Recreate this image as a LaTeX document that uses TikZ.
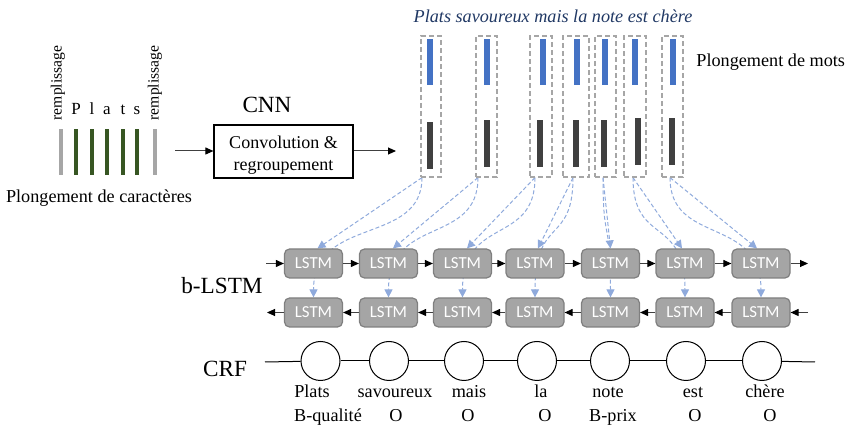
\documentclass[tikz,border=0pt]{standalone}
\usepackage{fontspec}
\setmainfont{Liberation Serif}
\newfontfamily\lstmfont{Carlito}
\usetikzlibrary{arrows.meta,positioning,backgrounds}
\definecolor{embblue}{RGB}{68,114,196}
\definecolor{embdark}{RGB}{64,64,64}
\definecolor{chargreen}{RGB}{55,86,35}
\definecolor{padgray}{RGB}{166,166,166}
\definecolor{linkblue}{RGB}{143,170,220}
\definecolor{lstmfill}{RGB}{165,165,165}
\definecolor{lstmedge}{RGB}{127,127,127}
\definecolor{titleblue}{RGB}{32,56,100}
\tikzset{
  txt/.style={font=\fontsize{9.1}{11}\selectfont},
  bigtxt/.style={font=\fontsize{11.6}{13}\selectfont},
  lstmbox/.style={draw=lstmedge,fill=lstmfill,rounded corners=2.5pt,line width=0.6pt,
    minimum width=29pt,minimum height=14.5pt,inner sep=0pt,text=white,
    font=\lstmfont\fontsize{8.4}{10}\selectfont},
  crfnode/.style={draw,circle,minimum size=19.5pt,inner sep=0pt,line width=0.5pt},
  embbox/.style={draw=padgray,dash pattern=on 2.5pt off 1.5pt,line width=0.6pt,
    inner sep=0pt,minimum height=70.5pt},
  link/.style={linkblue,dash pattern=on 2pt off 1.2pt,line width=0.5pt,
    -{Triangle[length=4pt,width=4pt]}},
  flow/.style={black!75,line width=0.5pt,-{Triangle[length=4pt,width=3.5pt,black]}}
}
\begin{document}
\begin{tikzpicture}[x=0.5pt,y=-0.5pt]
  \useasboundingbox (0,0) rectangle (848,427);
  % character embedding
  \foreach \x in {61,155} \fill[padgray] (\x-2.25,129) rectangle (\x+2.25,175);
  \foreach \x/\c in {76/P,92/l,107/a,123/t,137/s} {
    \fill[chargreen] (\x-2.25,129) rectangle (\x+2.25,175);
    \node[anchor=base,font=\fontsize{8.5}{10}\selectfont] at (\x,115) {\c};
  }
  \node[rotate=90,font=\fontsize{7.8}{9}\selectfont] (padl) at (58,83) {remplissage};
  \node[rotate=90,font=\fontsize{7.8}{9}\selectfont] (padr) at (155,83) {remplissage};
  \node[txt,anchor=base] (chartxt) at (99,203) {Plongement de caractères};
  \coordinate (charout) at (175,151);
  % CNN
  \node[draw,line width=0.6pt,minimum width=69.5pt,minimum height=26.5pt,inner sep=0pt] (conv) at (283.5,151.5) {};
  \node[align=center,font=\fontsize{9}{11}\selectfont] (convtxt) at (283.5,155.5) {Convolution \&\\regroupement};
  \node[bigtxt,anchor=base] (cnn) at (267,113) {CNN};
  \coordinate (convout) at (396,151);
  \draw[flow] (charout) -- (charout -| conv.west);
  \draw[flow] (conv.east |- convout) -- (convout);
  % word embedding
  \foreach \i/\cx/\w/\b/\d/\dt in {1/431/20/430/430/122,2/486.5/21/487/487/120,
      3/541/22/543/540/120,4/576/26/577/576/120,5/605.5/21/605/604/120,
      6/635/22/635/638/118,7/672.5/21/673/672/118} {
    \node[embbox,minimum width=\w*0.5pt] (e\i) at (\cx,106.5) {};
    \fill[embblue] (\b-3,39) rectangle (\b+3,85);
    \fill[embdark] (\d-3,\dt) rectangle (\d+3,\dt+47);
  }
  \node[anchor=base,text=titleblue,font=\fontsize{9.1}{11}\selectfont\itshape] (title) at (553,23) {Plats savoureux mais la note est chère};
  \node[txt,anchor=base west,inner sep=0pt] (wordtxt) at (696,67) {Plongement de mots};
  % b-LSTM
  \foreach \i/\x in {1/313.5,2/388.5,3/462.5,4/535,5/610.5,6/685,7/761} {
    \node[lstmbox] (f\i) at (\x,263.5) {LSTM};
    \node[lstmbox] (b\i) at (\x,312.5) {LSTM};
  }
  \begin{scope}[on background layer]
    \foreach \i/\s/\t in {1/-9/4,2/-8.5/4.5,3/-6/4.5,4/-3/3,5/-2.5/0,6/-2/-3,7/-2.5/-4} {
      \draw[link] ([xshift=\s*0.5pt]e\i.south) -- ([xshift=\t*0.5pt]f\i.north);
      \draw[link] ([xshift=\s*0.5pt]e\i.south) .. controls +(0,68) and +(0,-82) .. (b\i.north);
    }
  \end{scope}
  \coordinate (fin) at (266,263.5);
  \coordinate (fout) at (808,263.5);
  \coordinate (bin) at (808,312.5);
  \coordinate (bout) at (267,312.5);
  \draw[flow] (fin) -- (f1);
  \draw[flow] (f7) -- (fout);
  \draw[flow] (bin) -- (b7);
  \draw[flow] (b1) -- (bout);
  \foreach \i [count=\j from 2] in {1,...,6} {
    \draw[flow] (f\i) -- (f\j);
    \draw[flow] (b\j) -- (b\i);
  }
  \node[bigtxt,anchor=base] (blstm) at (222,294) {b-LSTM};
  % CRF
  \node[bigtxt,anchor=base] (crf) at (225,377) {CRF};
  \foreach \i/\x in {1/320.5,2/389,3/464,4/537,5/610,6/686,7/762}
    \node[crfnode] (c\i) at (\x,361) {};
  \coordinate (crfl) at (265,362);
  \coordinate (crfr) at (815,362);
  \draw[line width=0.5pt] (crfl) -- (c1);
  \draw[line width=0.5pt] (c7) -- (crfr);
  \foreach \i [count=\j from 2] in {1,...,6}
    \draw[line width=0.5pt] (c\i) -- (c\j);
  \foreach \x/\wrd in {312/Plats,395/savoureux,469/mais,541/la,608/note,693/est,765/chère}
    \node[txt,anchor=base] at (\x,398) {\wrd};
  \foreach \x/\tg in {328/B-qualité,396/O,468/O,545/O,613/B-prix,695/O,770/O}
    \node[txt,anchor=base] at (\x,422) {\tg};
\end{tikzpicture}
\end{document}
